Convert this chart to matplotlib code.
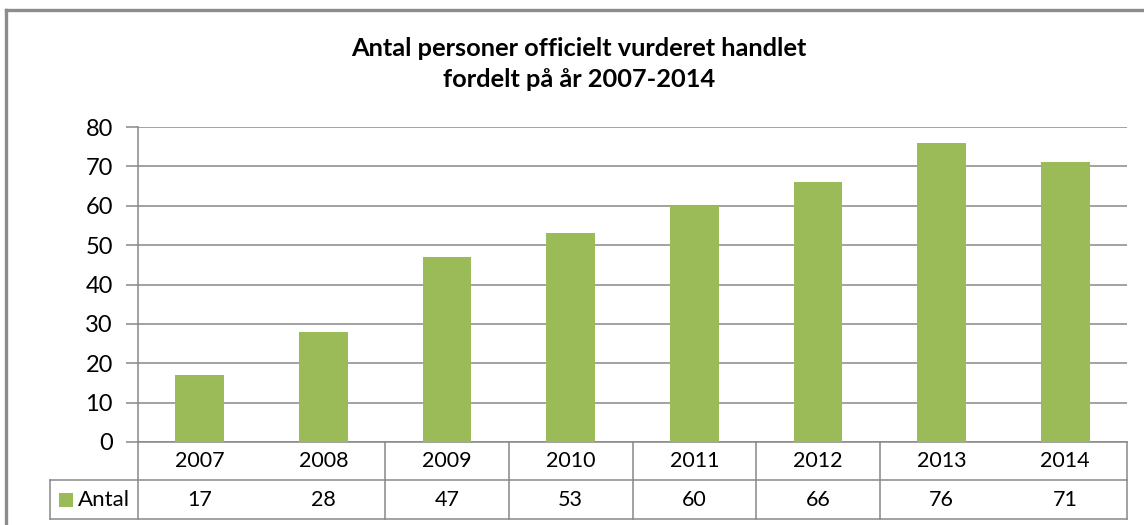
import numpy as np
import matplotlib
matplotlib.use("Agg")
import matplotlib.pyplot as plt
from matplotlib.lines import Line2D
from matplotlib.patches import Rectangle
import matplotlib.transforms as mtransforms

# Data
years = ['2007', '2008', '2009', '2010', '2011', '2012', '2013', '2014']
antal = [17, 28, 47, 53, 60, 66, 76, 71]
series_name = 'Antal'
title = 'Antal personer officielt vurderet handlet\nfordelt på år 2007-2014'

W, H = 1144, 525
BAR = '#9BBB59'
GRID = '#888888'
FONT = 'Lato'

plt.rcParams['font.family'] = [FONT, 'DejaVu Sans']

fig = plt.figure(figsize=(W / 100, H / 100), dpi=100)

# plot area in pixels
left, right, top, bottom = 138, 1127, 127, 442
ax = fig.add_axes([left / W, 1 - bottom / H, (right - left) / W, (bottom - top) / H])

x = np.arange(len(years))
ax.bar(x, antal, width=0.395, color=BAR, zorder=3)
ax.set_xlim(-0.5, len(years) - 0.5)
ax.set_ylim(0, 80)
ax.set_yticks(range(0, 81, 10))
ax.yaxis.grid(True, color=GRID, linewidth=1.1, zorder=0)
ax.set_xticks([])
for s in ['top', 'right', 'bottom']:
    ax.spines[s].set_visible(False)
ax.spines['left'].set_color(GRID)
ax.spines['left'].set_linewidth(1.1)
ax.tick_params(axis='y', length=9, width=1.1, color=GRID, labelsize=17, pad=9)

# data table under the plot (x in data coords, y in axes fraction)
tr = mtransforms.blended_transform_factory(ax.transData, ax.transAxes)
r1 = -0.122
r2 = -0.244
leg_left = -1.212
kw = dict(color=GRID, linewidth=1.1, transform=tr, clip_on=False)
ax.add_line(Line2D([-0.5, len(years) - 0.5], [0, 0], **kw))
ax.add_line(Line2D([leg_left, len(years) - 0.5], [r1, r1], **kw))
ax.add_line(Line2D([leg_left, len(years) - 0.5], [r2, r2], **kw))
ax.add_line(Line2D([-0.5, -0.5], [0, r2], **kw))
ax.add_line(Line2D([leg_left, leg_left], [r1, r2], **kw))
ax.add_line(Line2D([len(years) - 0.5] * 2, [0, r2], **kw))
for b in range(2, len(years) - 1):
    ax.add_line(Line2D([b - 0.5, b - 0.5], [0, r2], **kw))

for i, (yr, v) in enumerate(zip(years, antal)):
    ax.text(i, r1 / 2, yr, transform=tr, ha='center', va='center', fontsize=15.5)
    ax.text(i, (r1 + r2) / 2, str(v), transform=tr, ha='center', va='center', fontsize=15.5)

# legend key in the table
ax.add_patch(Rectangle((leg_left + 0.075, (r1 + r2) / 2 - 0.022), 0.115, 0.044,
                       facecolor=BAR, edgecolor='none', transform=tr, clip_on=False))
ax.text(leg_left + 0.23, (r1 + r2) / 2, series_name, transform=tr,
        ha='left', va='center', fontsize=16)

# title
fig.text(579 / W, 1 - 64 / H, title, ha='center', va='center', fontsize=18.3,
         fontweight='bold', linespacing=1.42)

# outer chart border (cut off at right and bottom)
fig.add_artist(Line2D([6 / W, 6 / W], [0, 1 - 10 / H], color='#8c8c8c', linewidth=2.4,
                      transform=fig.transFigure))
fig.add_artist(Line2D([6 / W, 1], [1 - 10 / H, 1 - 10 / H], color='#8c8c8c', linewidth=2.4,
                      transform=fig.transFigure))

fig.savefig('out.png', dpi=100)
